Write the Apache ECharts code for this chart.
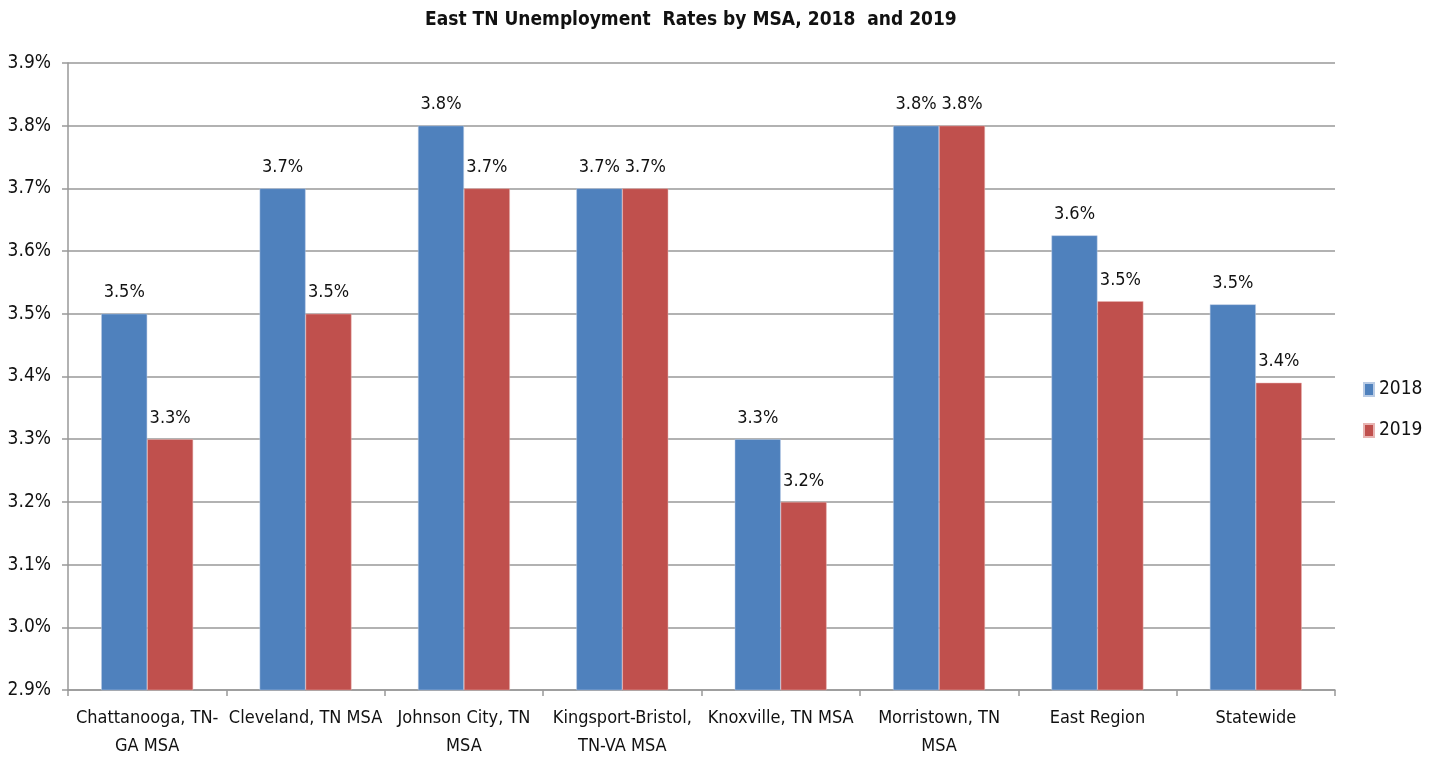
<!DOCTYPE html>
<html>
<head>
<meta charset="utf-8">
<script src="https://cdn.jsdelivr.net/npm/echarts@6/dist/echarts.min.js"></script>
<style>
  html, body { margin: 0; padding: 0; background: #fff; }
  #chart { width: 1437px; height: 761px; }
</style>
</head>
<body>
<div id="chart"></div>
<script>
// Unemployment rates (%) by metropolitan statistical area
const categories = [
  'Chattanooga, TN-\nGA MSA',
  'Cleveland, TN MSA',
  'Johnson City, TN\nMSA',
  'Kingsport-Bristol,\nTN-VA MSA',
  'Knoxville, TN MSA',
  'Morristown, TN\nMSA',
  'East Region',
  'Statewide'
];
const rates2018 = [3.5, 3.7, 3.8, 3.7, 3.3, 3.8, 3.625, 3.515];
const rates2019 = [3.3, 3.5, 3.7, 3.7, 3.2, 3.8, 3.52, 3.39];
const yTicks = { min: 2.9, max: 3.9, step: 0.1 };

const FONT = '"Liberation Sans Narrow", "DejaVu Sans Condensed", "Open Sans", sans-serif';
const pct = v => Number(v).toFixed(1) + '%';

const chart = echarts.init(document.getElementById('chart'));

const labelStyle = {
  show: true,
  position: 'top',
  distance: 12,
  formatter: p => pct(p.value),
  fontFamily: FONT,
  fontSize: 18,
  color: '#111'
};

chart.setOption({
  animation: false,
  title: {
    text: 'East TN Unemployment  Rates by MSA, 2018  and 2019',
    left: 420,
    top: 6,
    textStyle: { fontFamily: FONT, fontSize: 19, fontWeight: 'bold', color: '#111' }
  },
  legend: {
    orient: 'vertical',
    left: 1358,
    top: 375,
    itemWidth: 10,
    itemHeight: 13,
    itemGap: 22,
    icon: 'rect',
    textStyle: { fontFamily: FONT, fontSize: 19, color: '#111' },
    data: ['2018', '2019']
  },
  grid: { left: 68, right: 102, top: 63, bottom: 71 },
  xAxis: {
    type: 'category',
    data: categories,
    axisLine: { lineStyle: { color: '#999', width: 1.5 } },
    axisTick: { show: true, length: 6, lineStyle: { color: '#999', width: 1.5 } },
    axisLabel: {
      interval: 0,
      margin: 14,
      lineHeight: 28,
      fontFamily: FONT,
      fontSize: 18,
      color: '#111'
    }
  },
  yAxis: {
    type: 'value',
    min: yTicks.min,
    max: yTicks.max,
    interval: yTicks.step,
    axisLine: { show: true, lineStyle: { color: '#999', width: 1.5 } },
    axisTick: { show: true, length: 6, lineStyle: { color: '#999', width: 1.5 } },
    splitLine: { lineStyle: { color: '#999', width: 1.5 } },
    axisLabel: {
      margin: 17,
      formatter: v => pct(v),
      fontFamily: FONT,
      fontSize: 19,
      color: '#111'
    }
  },
  series: [
    {
      name: '2018',
      type: 'bar',
      data: rates2018,
      barGap: '0%',
      barCategoryGap: '42%',
      itemStyle: { color: '#4f81bd', borderColor: '#b9cbe4', borderWidth: 0.5 },
      label: labelStyle
    },
    {
      name: '2019',
      type: 'bar',
      data: rates2019,
      itemStyle: { color: '#c0504d', borderColor: '#e8b4b2', borderWidth: 0.5 },
      label: labelStyle
    }
  ]
});
</script>
</body>
</html>
